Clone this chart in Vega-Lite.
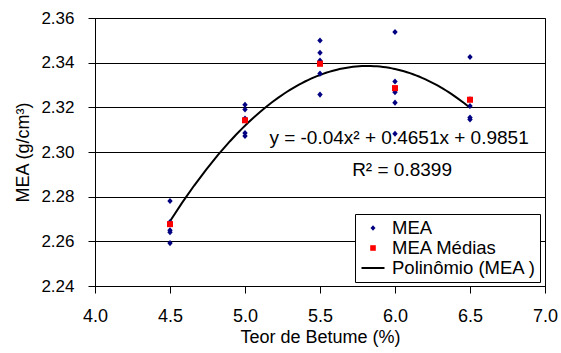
{
  "$schema": "https://vega.github.io/schema/vega-lite/v6.json",
  "width": 450,
  "height": 268,
  "autosize": {"type": "none"},
  "padding": {"left": 95, "top": 18, "right": 16, "bottom": 67},
  "background": "white",
  "config": {
    "view": {"stroke": "#000", "strokeWidth": 1},
    "font": "Liberation Sans",
    "axis": {
      "labelFont": "Liberation Sans",
      "titleFont": "Liberation Sans",
      "labelFontSize": 17,
      "titleFontSize": 18,
      "titleFontWeight": "normal",
      "labelColor": "#000",
      "titleColor": "#000",
      "domainColor": "#000",
      "tickColor": "#000",
      "tickSize": 7,
      "domainWidth": 1,
      "tickWidth": 1,
      "labelFlush": false,
      "labelOverlap": false
    },
    "legend": {
      "labelFont": "Liberation Sans",
      "labelFontSize": 18.5,
      "labelColor": "#000"
    }
  },
  "datasets": {
    "mea": [
      {"teor": 4.5, "mea": 2.2781, "serie": "MEA"},
      {"teor": 4.5, "mea": 2.2687, "serie": "MEA"},
      {"teor": 4.5, "mea": 2.2650, "serie": "MEA"},
      {"teor": 4.5, "mea": 2.2641, "serie": "MEA"},
      {"teor": 4.5, "mea": 2.2592, "serie": "MEA"},
      {"teor": 5.0, "mea": 2.3212, "serie": "MEA"},
      {"teor": 5.0, "mea": 2.3190, "serie": "MEA"},
      {"teor": 5.0, "mea": 2.3150, "serie": "MEA"},
      {"teor": 5.0, "mea": 2.3085, "serie": "MEA"},
      {"teor": 5.0, "mea": 2.3072, "serie": "MEA"},
      {"teor": 5.5, "mea": 2.3499, "serie": "MEA"},
      {"teor": 5.5, "mea": 2.3444, "serie": "MEA"},
      {"teor": 5.5, "mea": 2.3410, "serie": "MEA"},
      {"teor": 5.5, "mea": 2.3351, "serie": "MEA"},
      {"teor": 5.5, "mea": 2.3257, "serie": "MEA"},
      {"teor": 6.0, "mea": 2.3537, "serie": "MEA"},
      {"teor": 6.0, "mea": 2.3316, "serie": "MEA"},
      {"teor": 6.0, "mea": 2.3268, "serie": "MEA"},
      {"teor": 6.0, "mea": 2.3221, "serie": "MEA"},
      {"teor": 6.0, "mea": 2.3082, "serie": "MEA"},
      {"teor": 6.5, "mea": 2.3425, "serie": "MEA"},
      {"teor": 6.5, "mea": 2.3236, "serie": "MEA"},
      {"teor": 6.5, "mea": 2.3206, "serie": "MEA"},
      {"teor": 6.5, "mea": 2.3154, "serie": "MEA"},
      {"teor": 6.5, "mea": 2.3146, "serie": "MEA"}
    ],
    "medias": [
      {"teor": 4.5, "mea": 2.2677, "serie": "MEA Médias"},
      {"teor": 5.0, "mea": 2.3142, "serie": "MEA Médias"},
      {"teor": 5.5, "mea": 2.3395, "serie": "MEA Médias"},
      {"teor": 6.0, "mea": 2.3286, "serie": "MEA Médias"},
      {"teor": 6.5, "mea": 2.3234, "serie": "MEA Médias"}
    ],
    "anot": [
      {"teor": 6.027, "mea": 2.3064, "texto": "y = -0.04x² + 0.4651x + 0.9851"},
      {"teor": 6.047, "mea": 2.2918, "texto": "R² = 0.8399"}
    ]
  },
  "layer": [
    {
      "data": {"name": "mea"},
      "transform": [
        {"regression": "mea", "on": "teor", "method": "poly", "order": 2, "extent": [4.5, 6.5]}
      ],
      "mark": {"type": "line", "color": "#000", "strokeWidth": 2},
      "encoding": {
        "x": {"field": "teor", "type": "quantitative",
          "scale": {"domain": [4, 7], "nice": false, "zero": false},
          "axis": {"values": [4, 4.5, 5, 5.5, 6, 6.5, 7], "format": ".1f", "grid": false,
            "labelFontSize": 18,
            "title": "Teor de Betume (%)", "labelPadding": 14, "titlePadding": 3}},
        "y": {"field": "mea", "type": "quantitative",
          "scale": {"domain": [2.24, 2.36], "nice": false, "zero": false},
          "axis": {"values": [2.24, 2.26, 2.28, 2.30, 2.32, 2.34, 2.36], "format": ".2f",
            "grid": true, "gridColor": "#000", "gridWidth": 1,
            "title": "MEA (g/cm³)", "labelPadding": 14, "titlePadding": 8}}
      }
    },
    {
      "data": {"name": "mea"},
      "mark": {"type": "point", "filled": true, "opacity": 1, "size": 466},
      "encoding": {
        "x": {"field": "teor", "type": "quantitative"},
        "y": {"field": "mea", "type": "quantitative"},
        "color": {"field": "serie", "type": "nominal",
          "scale": {"domain": ["MEA", "MEA Médias", "Polinômio (MEA )"], "range": ["#000080", "#FF0000", "#000000"]},
          "legend": {
            "title": null, "orient": "none", "legendX": 260, "legendY": 196,
            "fillColor": "white", "strokeColor": "#000", "padding": 4,
            "rowPadding": 0, "symbolOffset": 4, "labelOffset": 9,
            "symbolSize": 400, "symbolStrokeWidth": 0
          }},
        "shape": {"field": "serie", "type": "nominal",
          "scale": {"domain": ["MEA", "MEA Médias", "Polinômio (MEA )"],
            "range": ["M0,-0.28L0.25,0L0,0.28L-0.25,0Z", "M-0.28,-0.28H0.28V0.28H-0.28Z", "M-1.15,-0.1H1.15V0.1H-1.15Z"]},
          "legend": {
            "title": null, "orient": "none", "legendX": 260, "legendY": 196,
            "fillColor": "white", "strokeColor": "#000", "padding": 4,
            "rowPadding": 0, "symbolOffset": 4, "labelOffset": 9,
            "symbolSize": 400, "symbolStrokeWidth": 0
          }}
      }
    },
    {
      "data": {"name": "medias"},
      "mark": {"type": "point", "filled": true, "opacity": 1, "size": 466},
      "encoding": {
        "x": {"field": "teor", "type": "quantitative"},
        "y": {"field": "mea", "type": "quantitative"},
        "color": {"field": "serie", "type": "nominal"},
        "shape": {"field": "serie", "type": "nominal"}
      }
    },
    {
      "data": {"name": "anot"},
      "mark": {"type": "text", "fontSize": 19, "font": "Liberation Sans", "color": "#000", "align": "center", "baseline": "middle"},
      "encoding": {
        "x": {"field": "teor", "type": "quantitative"},
        "y": {"field": "mea", "type": "quantitative"},
        "text": {"field": "texto"}
      }
    }
  ]
}
